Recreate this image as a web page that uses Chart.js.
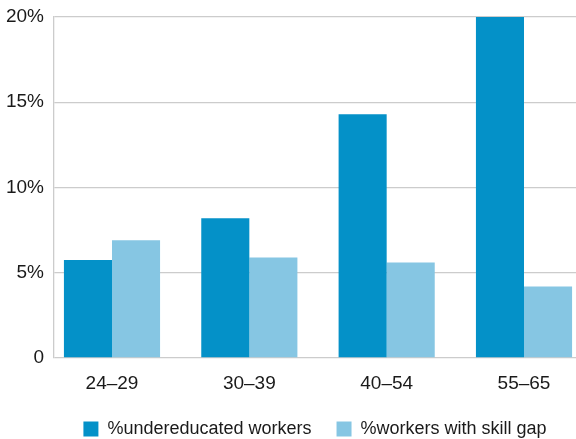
<!DOCTYPE html>
<html>
<head>
<meta charset="utf-8">
<script src="https://cdn.jsdelivr.net/npm/chart.js@4/dist/chart.umd.min.js"></script>
<style>
  html, body { margin: 0; padding: 0; background: #fff; overflow: hidden; }
  #wrap { width: 576px; height: 439px; }
</style>
</head>
<body>
<div id="wrap"><canvas id="chart" width="576" height="439"></canvas></div>
<script>
var AGE_GROUPS = ['24\u201329', '30\u201339', '40\u201354', '55\u201365'];
var UNDEREDUCATED = [5.75, 8.2, 14.3, 20.0];
var SKILL_GAP = [6.9, 5.9, 5.6, 4.2];
var Y_TICKS = [0, 5, 10, 15, 20];
var SERIES_NAMES = ['%undereducated workers', '%workers with skill gap'];

var DARK_BLUE = '#0491c8';
var LIGHT_BLUE = '#86c6e3';
var GRID_GREY = '#cccccc';
var FONT = '"Liberation Sans", Arial, sans-serif';

// bars sit on a linear x scale so the group spacing can follow the original
function points(values) {
  return values.map(function(v, i) { return { x: i, y: v }; });
}

Chart.defaults.font.family = FONT;
Chart.defaults.font.size = 19;
Chart.defaults.color = '#1a1a1a';

new Chart(document.getElementById('chart'), {
  type: 'bar',
  data: {
    datasets: [
      { label: SERIES_NAMES[0], data: points(UNDEREDUCATED), backgroundColor: DARK_BLUE },
      { label: SERIES_NAMES[1], data: points(SKILL_GAP), backgroundColor: LIGHT_BLUE }
    ]
  },
  options: {
    responsive: false,
    animation: false,
    layout: { padding: { top: 17, right: 0, bottom: -9, left: 0 } },
    datasets: { bar: { categoryPercentage: 0.7, barPercentage: 1.0 } },
    scales: {
      x: {
        type: 'linear',
        offset: false,
        min: -0.4223,
        max: 3.3786,
        grid: { display: false, drawTicks: false, offset: false },
        border: { display: false },
        ticks: {
          padding: 14,
          autoSkip: false,
          maxRotation: 0,
          callback: function(v) { return AGE_GROUPS[v]; }
        },
        afterBuildTicks: function(scale) {
          scale.ticks = AGE_GROUPS.map(function(c, i) { return { value: i }; });
        },
        afterFit: function(scale) { scale.height = 37; }
      },
      y: {
        min: 0,
        max: 20,
        grid: { color: GRID_GREY, lineWidth: 1.3, drawTicks: false },
        border: { color: GRID_GREY, width: 1.3 },
        ticks: {
          padding: 10,
          callback: function(v) { return v === 0 ? '0' : v + '%'; }
        },
        afterBuildTicks: function(scale) {
          scale.ticks = Y_TICKS.map(function(v) { return { value: v }; });
        },
        afterFit: function(scale) {
          scale.width = 54;
          scale.paddingTop = 0; // let the layout padding set the top edge
        }
      }
    },
    plugins: {
      tooltip: { enabled: false },
      legend: {
        position: 'bottom',
        fullSize: false,
        labels: {
          boxWidth: 15,
          boxHeight: 15,
          padding: 25,
          font: { size: 18 }
        }
      }
    }
  }
});
</script>
</body>
</html>
